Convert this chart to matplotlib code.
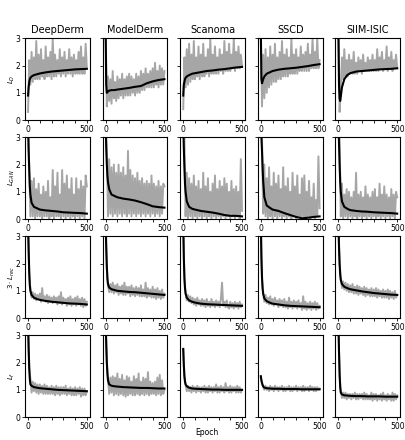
import matplotlib
matplotlib.use("Agg")
import matplotlib.pyplot as plt

# datasets / losses
datasets = ['DeepDerm', 'ModelDerm', 'Scanoma', 'SSCD', 'SIIM-ISIC']
ylabels = ['$L_D$', '$L_{GAN}$', r'$3 \cdot L_{rec}$', '$L_f$']

epochs_raw = list(range(0, 501, 10))
epochs_smooth = [0, 5, 10, 15, 20, 30, 50, 75, 100, 150, 200, 250, 300, 350, 400, 450, 500]

# ---- L_D ----
ld_raw = [
    [0.3, 2.2, 1.3, 2.5, 1.4, 2.3, 1.5, 2.9, 1.5, 2.4,
     1.5, 2.6, 1.6, 2.2, 1.5, 2.7, 1.6, 2.3, 1.6, 2.5,
     1.5, 3.0, 1.6, 2.4, 1.6, 2.2, 1.7, 2.6, 1.6, 2.3,
     1.7, 2.5, 1.6, 2.2, 1.7, 2.6, 1.7, 2.3, 1.6, 2.4,
     1.7, 2.2, 1.7, 2.5, 1.7, 2.7, 1.7, 2.3, 1.7, 2.8, 1.9],
    [3.3, 0.5, 1.6, 0.7, 1.5, 0.6, 1.8, 0.8, 1.4, 0.7,
     1.6, 0.8, 1.5, 0.9, 1.7, 0.8, 1.5, 0.9, 1.6, 0.9,
     1.7, 0.9, 1.6, 1.0, 1.5, 0.9, 1.7, 1.0, 1.6, 1.0,
     1.8, 1.1, 1.7, 1.1, 1.9, 1.2, 1.7, 1.2, 1.8, 1.2,
     1.9, 1.2, 2.1, 1.3, 1.8, 1.2, 2.0, 1.3, 1.9, 1.3, 1.8],
    [0.4, 2.3, 1.2, 2.6, 1.3, 2.8, 1.4, 2.4, 1.5, 2.9,
     1.5, 2.3, 1.6, 2.7, 1.5, 2.4, 1.6, 2.8, 1.6, 2.3,
     1.7, 2.6, 1.6, 3.0, 1.7, 2.4, 1.7, 2.7, 1.7, 2.3,
     1.7, 2.6, 1.8, 2.4, 1.7, 2.9, 1.8, 2.5, 1.8, 2.8,
     1.8, 2.4, 1.9, 3.0, 1.8, 2.5, 1.9, 2.7, 1.9, 2.4, 2.0],
    [3.2, 0.5, 2.4, 0.8, 2.6, 1.0, 2.3, 1.2, 2.7, 1.3,
     2.4, 1.4, 2.8, 1.4, 2.3, 1.5, 2.5, 1.5, 2.9, 1.6,
     2.4, 1.6, 2.6, 1.6, 2.3, 1.7, 3.0, 1.7, 2.4, 1.7,
     2.6, 1.7, 2.3, 1.8, 2.7, 1.8, 2.4, 1.8, 2.5, 1.8,
     2.8, 1.8, 2.4, 1.9, 3.0, 1.9, 2.5, 1.9, 3.0, 1.9, 2.2],
    [3.2, 0.3, 1.2, 2.3, 1.5, 2.6, 1.6, 2.2, 1.6, 2.4,
     1.7, 2.2, 1.7, 2.5, 1.7, 2.1, 1.7, 2.3, 1.8, 2.2,
     1.7, 2.4, 1.8, 2.1, 1.8, 2.3, 1.8, 2.2, 1.8, 2.4,
     1.8, 2.2, 1.8, 2.6, 1.8, 2.3, 1.9, 2.5, 1.8, 2.2,
     1.9, 2.7, 1.8, 2.3, 1.9, 2.5, 1.8, 2.2, 1.9, 2.4, 1.9],
]
ld_smooth = [
    [0.9, 1.2, 1.4, 1.5, 1.55, 1.6, 1.65, 1.68, 1.71, 1.75, 1.78, 1.8, 1.82, 1.84, 1.86, 1.87, 1.88],
    [3.3, 1.3, 1.0, 1.02, 1.05, 1.08, 1.1, 1.1, 1.12, 1.15, 1.18, 1.22, 1.25, 1.35, 1.42, 1.47, 1.5],
    [0.9, 1.3, 1.4, 1.5, 1.55, 1.6, 1.65, 1.7, 1.72, 1.76, 1.8, 1.82, 1.85, 1.87, 1.9, 1.93, 1.95],
    [3.3, 1.5, 1.35, 1.42, 1.5, 1.6, 1.7, 1.75, 1.8, 1.85, 1.88, 1.9, 1.92, 1.95, 1.98, 2.02, 2.05],
    [3.3, 1.3, 0.8, 0.7, 0.85, 1.2, 1.5, 1.65, 1.72, 1.78, 1.8, 1.82, 1.84, 1.86, 1.87, 1.88, 1.9],
]

# ---- L_GAN ----
lgan_raw = [
    [3.5, 2.0, 0.1, 1.4, 0.1, 1.5, 0.0, 1.1, 0.1, 1.3,
     0.1, 0.9, 0.0, 1.2, 0.1, 1.0, 0.1, 1.4, 0.0, 0.8,
     0.1, 1.8, 0.0, 1.2, 0.1, 1.7, 0.1, 0.9, 0.0, 1.8,
     0.1, 1.3, 0.0, 1.6, 0.1, 1.1, 0.0, 1.5, 0.1, 0.9,
     0.0, 1.5, 0.1, 1.1, 0.0, 1.4, 0.1, 1.2, 0.0, 1.6, 1.2],
    [3.5, 2.6, 0.1, 2.2, 0.2, 1.9, 0.1, 2.0, 0.2, 1.7,
     0.1, 2.0, 0.2, 1.7, 0.1, 1.9, 0.2, 1.6, 0.1, 2.5,
     0.2, 1.8, 0.1, 1.6, 0.2, 1.5, 0.1, 1.7, 0.2, 1.4,
     0.1, 1.5, 0.2, 1.3, 0.1, 1.4, 0.2, 1.3, 0.1, 1.6,
     0.2, 1.3, 0.1, 1.2, 0.2, 1.4, 0.1, 1.2, 0.2, 1.3, 1.2],
    [3.5, 3.0, 0.1, 1.7, 0.0, 1.5, 0.1, 1.3, 0.0, 1.6,
     0.1, 1.2, 0.0, 1.4, 0.1, 1.1, 0.0, 1.7, 0.1, 1.2,
     0.0, 1.5, 0.1, 1.0, 0.0, 1.3, 0.1, 1.6, 0.0, 1.1,
     0.1, 1.4, 0.0, 1.2, 0.1, 1.5, 0.0, 1.3, 0.1, 1.0,
     0.0, 1.4, 0.1, 1.1, 0.0, 1.2, 0.1, 1.0, 0.0, 2.2, 0.3],
    [3.5, 3.0, 0.2, 2.0, 0.1, 1.5, 0.0, 1.9, 0.1, 1.2,
     0.0, 1.7, 0.1, 1.3, 0.0, 1.6, 0.1, 1.1, 0.0, 1.9,
     0.1, 1.2, 0.0, 1.5, 0.1, 1.0, 0.0, 1.7, 0.1, 1.2,
     0.0, 1.6, 0.1, 0.9, 0.0, 1.5, 0.1, 1.6, 0.0, 1.0,
     0.1, 1.4, 0.0, 0.8, 0.1, 1.3, 0.0, 0.7, 0.1, 2.3, 0.4],
    [3.5, 3.0, 0.1, 1.3, 0.0, 0.9, 0.1, 1.1, 0.0, 1.0,
     0.1, 0.8, 0.0, 1.0, 0.1, 1.7, 0.0, 0.9, 0.1, 1.0,
     0.0, 0.8, 0.1, 1.2, 0.0, 0.9, 0.1, 0.8, 0.0, 1.0,
     0.1, 1.1, 0.0, 0.8, 0.1, 1.3, 0.0, 0.9, 0.1, 1.2,
     0.0, 0.9, 0.1, 0.8, 0.0, 1.1, 0.1, 0.9, 0.0, 1.0, 0.8],
]
lgan_smooth = [
    [3.5, 2.5, 1.8, 1.2, 0.9, 0.6, 0.45, 0.4, 0.35, 0.32, 0.3, 0.28, 0.25, 0.24, 0.23, 0.22, 0.2],
    [3.5, 2.6, 2.0, 1.6, 1.35, 1.1, 0.9, 0.85, 0.8, 0.75, 0.72, 0.68, 0.62, 0.55, 0.47, 0.44, 0.42],
    [3.5, 2.6, 1.9, 1.3, 1.0, 0.65, 0.45, 0.38, 0.35, 0.3, 0.27, 0.24, 0.2, 0.15, 0.12, 0.12, 0.1],
    [3.5, 3.0, 2.5, 1.9, 1.4, 0.8, 0.5, 0.42, 0.35, 0.3, 0.22, 0.15, 0.08, 0.03, 0.05, 0.08, 0.1],
    [3.5, 2.8, 2.0, 1.4, 1.0, 0.65, 0.45, 0.38, 0.33, 0.3, 0.28, 0.27, 0.25, 0.24, 0.23, 0.22, 0.2],
]

# ---- 3 * L_rec ----
lrec_raw = [
    [3.5, 1.6, 1.05, 0.75, 0.95, 0.7, 0.9, 0.65, 0.85, 0.7,
     0.9, 0.6, 1.1, 0.65, 0.8, 0.6, 0.85, 0.55, 0.8, 0.6,
     0.75, 0.55, 0.8, 0.6, 0.75, 0.5, 0.8, 0.55, 0.95, 0.5,
     0.75, 0.55, 0.7, 0.45, 0.75, 0.5, 0.8, 0.45, 0.7, 0.5,
     0.75, 0.45, 0.8, 0.5, 0.7, 0.45, 0.75, 0.4, 0.7, 0.45, 0.6],
    [3.5, 1.8, 1.2, 0.95, 1.25, 0.95, 1.3, 0.9, 1.2, 0.95,
     1.25, 0.85, 1.15, 0.9, 1.2, 0.85, 1.3, 0.85, 1.15, 0.9,
     1.15, 0.8, 1.2, 0.85, 1.1, 0.8, 1.15, 0.85, 1.1, 0.8,
     1.2, 0.8, 1.05, 0.8, 1.3, 0.75, 1.1, 0.8, 1.05, 0.75,
     1.15, 0.75, 1.05, 0.7, 1.1, 0.75, 1.0, 0.7, 1.05, 0.75, 0.9],
    [3.5, 1.4, 0.95, 0.65, 0.85, 0.6, 0.8, 0.55, 0.75, 0.5,
     0.7, 0.45, 0.75, 0.5, 0.65, 0.45, 0.7, 0.45, 0.65, 0.4,
     0.7, 0.45, 0.6, 0.4, 0.7, 0.45, 0.6, 0.4, 0.65, 0.45,
     0.6, 0.4, 0.7, 1.3, 0.45, 0.6, 0.4, 0.65, 0.4, 0.35,
     0.6, 0.4, 0.55, 0.35, 0.6, 0.4, 0.55, 0.35, 0.6, 0.4, 0.5],
    [3.5, 1.4, 0.9, 0.6, 0.85, 0.55, 0.75, 0.5, 0.8, 0.5,
     0.7, 0.45, 0.75, 0.5, 0.65, 0.4, 0.7, 0.45, 0.65, 0.4,
     0.7, 0.4, 0.6, 0.35, 0.75, 0.4, 0.6, 0.35, 0.65, 0.4,
     0.6, 0.35, 0.65, 0.4, 0.55, 0.3, 0.8, 0.35, 0.6, 0.3,
     0.55, 0.35, 0.6, 0.3, 0.55, 0.35, 0.6, 0.3, 0.55, 0.35, 0.45],
    [3.5, 2.0, 1.5, 1.1, 1.35, 1.05, 1.3, 1.0, 1.25, 0.95,
     1.2, 0.95, 1.25, 0.9, 1.15, 0.9, 1.2, 0.85, 1.15, 0.9,
     1.1, 0.85, 1.15, 0.8, 1.1, 0.85, 1.05, 0.8, 1.1, 0.8,
     1.05, 0.8, 1.1, 0.75, 1.05, 0.8, 1.0, 0.75, 1.05, 0.75,
     1.0, 0.75, 1.05, 0.7, 1.0, 0.75, 0.95, 0.7, 1.0, 0.75, 0.85],
]
lrec_smooth = [
    [3.5, 2.5, 1.7, 1.2, 1.0, 0.85, 0.75, 0.7, 0.67, 0.63, 0.6, 0.58, 0.56, 0.54, 0.53, 0.52, 0.5],
    [3.5, 2.6, 1.9, 1.45, 1.25, 1.12, 1.06, 1.03, 1.0, 0.98, 0.96, 0.95, 0.93, 0.91, 0.89, 0.87, 0.85],
    [3.5, 2.2, 1.5, 1.1, 0.9, 0.75, 0.65, 0.6, 0.57, 0.53, 0.51, 0.5, 0.49, 0.48, 0.47, 0.46, 0.45],
    [3.5, 2.2, 1.5, 1.1, 0.9, 0.72, 0.62, 0.57, 0.53, 0.5, 0.47, 0.45, 0.44, 0.43, 0.42, 0.41, 0.4],
    [3.5, 2.6, 2.0, 1.6, 1.4, 1.25, 1.15, 1.1, 1.06, 1.02, 0.98, 0.95, 0.92, 0.9, 0.88, 0.86, 0.85],
]

# ---- L_f ----
lf_raw = [
    [3.5, 1.8, 1.4, 0.9, 1.3, 0.95, 1.25, 0.9, 1.2, 0.85,
     1.2, 0.9, 1.15, 0.85, 1.2, 0.85, 1.15, 0.85, 1.1, 0.85,
     1.15, 0.85, 1.1, 0.8, 1.15, 0.85, 1.1, 0.8, 1.1, 0.85,
     1.1, 0.85, 1.15, 0.8, 1.05, 0.85, 1.1, 0.8, 1.05, 0.8,
     1.1, 0.8, 1.05, 0.85, 1.1, 0.75, 1.05, 0.8, 1.05, 0.8, 0.95],
    [3.5, 2.0, 1.4, 0.85, 1.45, 0.9, 1.5, 0.8, 1.45, 0.85,
     1.6, 0.8, 1.4, 0.85, 1.55, 0.8, 1.35, 0.75, 1.5, 0.8,
     1.45, 0.85, 1.3, 0.8, 1.5, 0.8, 1.4, 0.85, 1.6, 0.8,
     1.3, 0.85, 1.45, 0.8, 1.4, 0.85, 1.65, 0.8, 1.3, 0.85,
     1.25, 0.85, 1.3, 0.8, 1.45, 0.85, 1.55, 0.8, 1.35, 0.85, 1.0],
    [2.5, 1.5, 1.2, 0.95, 1.15, 0.95, 1.1, 0.9, 1.15, 0.95,
     1.1, 0.9, 1.15, 0.95, 1.1, 0.9, 1.1, 0.95, 1.15, 0.9,
     1.1, 0.9, 1.15, 0.95, 1.1, 0.9, 1.1, 0.95, 1.2, 0.9,
     1.1, 0.9, 1.15, 0.95, 1.1, 0.9, 1.25, 0.95, 1.1, 0.9,
     1.15, 0.9, 1.1, 0.95, 1.1, 0.9, 1.15, 0.9, 1.1, 0.9, 1.0],
    [1.45, 1.25, 1.1, 1.0, 1.15, 1.0, 1.1, 0.95, 1.15, 1.0,
     1.1, 0.95, 1.15, 1.0, 1.1, 0.95, 1.1, 1.0, 1.15, 0.95,
     1.1, 0.95, 1.1, 1.0, 1.15, 0.95, 1.1, 0.95, 1.1, 1.0,
     1.15, 0.95, 1.1, 1.0, 1.1, 0.95, 1.15, 0.95, 1.1, 1.0,
     1.1, 0.95, 1.15, 1.0, 1.1, 0.95, 1.1, 0.95, 1.1, 1.0, 1.05],
    [3.5, 1.5, 1.0, 0.7, 0.9, 0.7, 0.9, 0.65, 0.85, 0.7,
     0.85, 0.65, 0.85, 0.7, 0.9, 0.65, 0.85, 0.65, 0.85, 0.7,
     0.85, 0.65, 0.9, 0.65, 0.85, 0.65, 0.8, 0.65, 0.9, 0.6,
     0.85, 0.65, 0.85, 0.6, 0.8, 0.65, 0.85, 0.6, 0.9, 0.65,
     0.8, 0.6, 0.85, 0.65, 0.8, 0.6, 0.9, 0.6, 0.85, 0.65, 0.8],
]
lf_smooth = [
    [3.5, 2.5, 1.8, 1.4, 1.2, 1.15, 1.1, 1.08, 1.06, 1.04, 1.02, 1.0, 0.99, 0.98, 0.97, 0.96, 0.95],
    [3.5, 2.7, 2.0, 1.6, 1.35, 1.2, 1.15, 1.13, 1.12, 1.1, 1.09, 1.08, 1.07, 1.07, 1.06, 1.05, 1.05],
    [2.5, 1.9, 1.5, 1.3, 1.2, 1.13, 1.08, 1.05, 1.04, 1.03, 1.02, 1.01, 1.01, 1.0, 1.0, 1.0, 1.0],
    [1.5, 1.35, 1.25, 1.18, 1.13, 1.08, 1.06, 1.05, 1.04, 1.04, 1.03, 1.03, 1.03, 1.02, 1.02, 1.02, 1.02],
    [3.5, 2.4, 1.6, 1.1, 0.9, 0.83, 0.8, 0.79, 0.78, 0.77, 0.77, 0.76, 0.76, 0.76, 0.75, 0.75, 0.75],
]

raw_rows = [ld_raw, lgan_raw, lrec_raw, lf_raw]
smooth_rows = [ld_smooth, lgan_smooth, lrec_smooth, lf_smooth]

fig, axes = plt.subplots(4, 5, figsize=(4.05, 4.4), dpi=100)
fig.subplots_adjust(left=0.062, right=0.988, top=0.913, bottom=0.052,
                    wspace=0.2, hspace=0.21)

for i in range(4):
    for j in range(5):
        ax = axes[i, j]
        ax.plot(epochs_raw, raw_rows[i][j], color='#a6a6a6', lw=1.4)
        ax.plot(epochs_smooth, smooth_rows[i][j], color='black', lw=1.5)
        ax.set_ylim(0, 3)
        ax.set_xlim(-25, 525)
        ax.set_yticks([0, 1, 2, 3])
        ax.set_xticks([0, 100, 200, 300, 400, 500])
        ax.set_xticklabels(['0', '', '', '', '', '500'])
        ax.tick_params(labelsize=5.5, length=2, width=0.6, pad=1.5)
        for s in ax.spines.values():
            s.set_linewidth(0.8)
        if j == 0:
            ax.set_ylabel(ylabels[i], fontsize=5)
            ax.yaxis.set_label_coords(-0.13, 0.5)
        else:
            ax.set_yticklabels([])
        if i == 0:
            ax.set_title(datasets[j], fontsize=7, pad=4)

fig.text(0.51, 0.012, 'Epoch', ha='center', fontsize=5.5)
fig.savefig('out.png', dpi=100)
